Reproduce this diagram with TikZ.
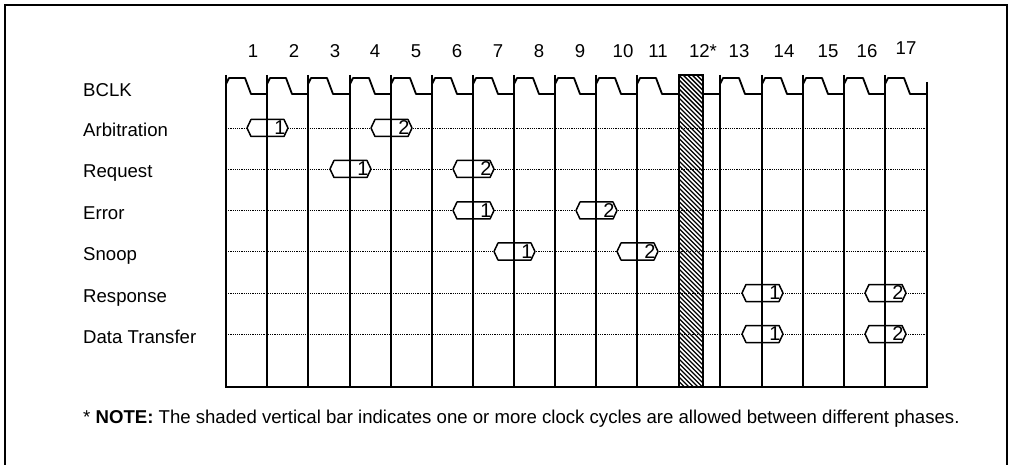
\documentclass[tikz,border=0pt]{standalone}
\usepackage{fontspec}
\setmainfont{Liberation Sans}

\tikzset{
  gridline/.style={line width=2.5pt},
  clockline/.style={line width=1.8pt, line join=round},
  sigline/.style={line width=0.9pt, dash pattern=on 1.2pt off 1pt},
  phasebox/.style={draw, fill=white, line width=1.5pt, line join=round},
  phasenum/.style={font=\fontsize{20}{22}\selectfont, inner sep=0pt},
  rowname/.style={anchor=base west, font=\fontsize{18.6}{21}\selectfont, inner sep=0pt},
  cyclenum/.style={anchor=base, font=\fontsize{18.6}{21}\selectfont, inner sep=0pt},
}

% one clock period starting at a grid line
\newcommand{\clk}[1]{\draw[clockline] (#1,84) -- (#1+3,78) -- (#1+19,78) -- (#1+25,94) -- (#1+41,94);}
% a bus phase centred on a grid line
\newcommand{\busphase}[4]{%
  \draw[phasebox] (#2-20,#3) -- (#2-16,#3-8.5) -- (#2+17,#3-8.5) -- (#2+21,#3) -- (#2+17,#3+8.5) -- (#2-16,#3+8.5) -- cycle;}
\newcommand{\busnum}[4]{\node[phasenum] (#1) at (#2+13,#3) {#4};}

\begin{document}
\begin{tikzpicture}[x=1pt, y=-1pt]
  \useasboundingbox (0,0) rectangle (1012,465);
  \draw[line width=1.5pt] (5,470) -- (5,5) -- (1007,5) -- (1007,470);

  % cycle numbers
  \foreach \x/\t [count=\i] in {253/1,294/2,335/3,375/4,416/5,457/6,498/7,539/8,580/9,623/10,658/11,703/12*,739/13,784/14,828/15,867/16}
    \node[cyclenum] (cyc\i) at (\x,58) {\t};
  \node[cyclenum] (cyc17) at (906,55) {17};

  % row names
  \node[rowname] (bclk) at (83,97) {BCLK};
  \node[rowname] (arb) at (83,137) {Arbitration};
  \node[rowname] (req) at (83,178) {Request};
  \node[rowname] (err) at (83,219.5) {Error};
  \node[rowname] (snoop) at (83,260.5) {Snoop};
  \node[rowname] (resp) at (83,302) {Response};
  \node[rowname] (data) at (83,343) {Data Transfer};

  % signal rows
  \foreach \y in {128,169,210.5,251.5,293,334}
    \draw[sigline] (226,\y) -- (927,\y);

  % phases
  \busphase{arb1}{267}{128}{1}
  \busphase{arb2}{391}{128}{2}
  \busphase{req1}{350}{169}{1}
  \busphase{req2}{473}{169}{2}
  \busphase{err1}{473}{210.5}{1}
  \busphase{err2}{596}{210.5}{2}
  \busphase{snp1}{514}{251.5}{1}
  \busphase{snp2}{637}{251.5}{2}
  \busphase{rsp1}{762}{293}{1}
  \busphase{rsp2}{885}{293}{2}
  \busphase{dat1}{762}{334}{1}
  \busphase{dat2}{885}{334}{2}

  % hatched bar
  \begin{scope}
    \clip (679,75) rectangle (703,387);
    \foreach \k in {0,...,76}
      \draw[line width=1.4pt] (675,40+4.5*\k) -- ++(36,36);
  \end{scope}
  \draw[line width=1.5pt] (679,75) rectangle (703,387);

  % grid
  \foreach \x in {226,267,308,350,391,432,473,514,555,596,637,720,762,803,844,885}
    \draw[gridline] (\x,75) -- (\x,387);
  \draw[gridline] (927,82) -- (927,387);
  \draw[gridline, line cap=rect] (226,387) -- (927,387);

  % clock
  \foreach \x in {226,267,308,350,391,432,473,514,555,596,637,720,762,803,844,885}
    \clk{\x}
  \draw[clockline] (703,94) -- (720,94);

  % phase numbers
  \busnum{arb1}{267}{128}{1}
  \busnum{arb2}{391}{128}{2}
  \busnum{req1}{350}{169}{1}
  \busnum{req2}{473}{169}{2}
  \busnum{err1}{473}{210.5}{1}
  \busnum{err2}{596}{210.5}{2}
  \busnum{snp1}{514}{251.5}{1}
  \busnum{snp2}{637}{251.5}{2}
  \busnum{rsp1}{762}{293}{1}
  \busnum{rsp2}{885}{293}{2}
  \busnum{dat1}{762}{334}{1}
  \busnum{dat2}{885}{334}{2}

  \node[rowname] (note) at (83,423) {* \textbf{NOTE:} The shaded vertical bar indicates one or more clock cycles are allowed between different phases.};
\end{tikzpicture}
\end{document}
